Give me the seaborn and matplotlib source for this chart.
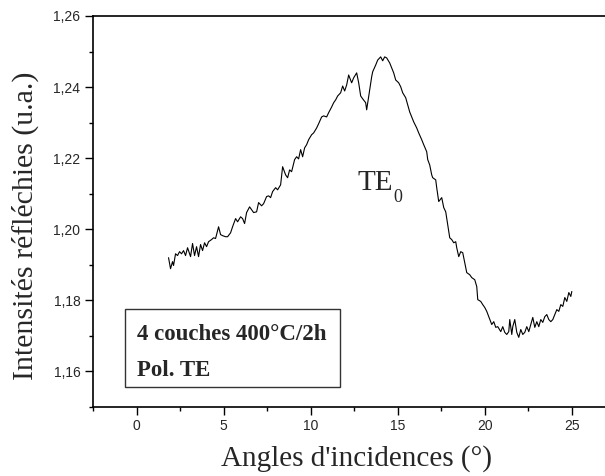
import numpy as np
import pandas as pd
import seaborn as sns
from matplotlib import pyplot as plt
from matplotlib.patches import Rectangle
from matplotlib.ticker import MultipleLocator

# Data
angle = [1.839, 1.954, 2.069, 2.126, 2.241, 2.356, 2.471, 2.586, 2.701, 2.816, 2.931, 3.103, 3.218, 3.333,
         3.448, 3.563, 3.678, 3.793, 3.908, 4.023, 4.138, 4.310, 4.425, 4.540, 4.713, 4.828, 4.943, 5.115,
         5.230, 5.402, 5.517, 5.690, 5.805, 5.977, 6.092, 6.207, 6.322, 6.494, 6.609, 6.724, 6.897, 7.011,
         7.184, 7.299, 7.471, 7.586, 7.701, 7.816, 7.989, 8.103, 8.276, 8.391, 8.563, 8.678, 8.793, 8.908,
         9.080, 9.195, 9.310, 9.425, 9.540, 9.655, 9.770, 9.885, 10.057, 10.172, 10.345, 10.460, 10.632,
         10.747, 10.920, 11.034, 11.207, 11.322, 11.437, 11.552, 11.724, 11.839, 11.954, 12.069, 12.184,
         12.356, 12.471, 12.644, 12.759, 12.874, 12.989, 13.161, 13.218, 13.506, 13.563, 13.736, 13.851,
         14.023, 14.138, 14.253, 14.368, 14.540, 14.655, 14.770, 14.885, 15.057, 15.172, 15.287, 15.460,
         15.575, 15.690, 15.805, 15.920, 16.092, 16.207, 16.379, 16.494, 16.667, 16.724, 16.839, 16.954,
         17.011, 17.184, 17.241, 17.356, 17.529, 17.644, 17.759, 17.874, 17.989, 18.103, 18.218, 18.333,
         18.391, 18.506, 18.621, 18.736, 18.851, 18.966, 19.138, 19.253, 19.425, 19.540, 19.598, 19.770,
         19.885, 20.000, 20.115, 20.230, 20.402, 20.517, 20.632, 20.747, 20.920, 21.034, 21.149, 21.264,
         21.379, 21.437, 21.552, 21.609, 21.724, 21.839, 21.954, 22.069, 22.184, 22.299, 22.414, 22.529,
         22.644, 22.759, 22.874, 22.989, 23.103, 23.218, 23.333, 23.448, 23.563, 23.678, 23.793, 23.908,
         24.023, 24.138, 24.253, 24.368, 24.483, 24.598, 24.713, 24.828, 24.943, 25.000]
intensity = [1.1920, 1.1889, 1.1909, 1.1898, 1.1931, 1.1926, 1.1937, 1.1931, 1.1940, 1.1926, 1.1948, 1.1923,
             1.1960, 1.1926, 1.1951, 1.1923, 1.1957, 1.1940, 1.1962, 1.1951, 1.1965, 1.1971, 1.1976, 1.1974,
             1.2007, 1.1985, 1.1982, 1.1979, 1.1979, 1.1990, 1.2007, 1.2030, 1.2021, 1.2035, 1.2030, 1.2016,
             1.2047, 1.2063, 1.2055, 1.2047, 1.2049, 1.2075, 1.2066, 1.2072, 1.2092, 1.2094, 1.2089, 1.2106,
             1.2117, 1.2111, 1.2125, 1.2176, 1.2153, 1.2145, 1.2167, 1.2162, 1.2196, 1.2204, 1.2198, 1.2224,
             1.2204, 1.2229, 1.2238, 1.2252, 1.2266, 1.2271, 1.2285, 1.2297, 1.2316, 1.2319, 1.2316, 1.2328,
             1.2344, 1.2356, 1.2364, 1.2375, 1.2384, 1.2403, 1.2389, 1.2406, 1.2434, 1.2412, 1.2426, 1.2440,
             1.2412, 1.2375, 1.2367, 1.2356, 1.2336, 1.2429, 1.2443, 1.2462, 1.2476, 1.2485, 1.2474, 1.2485,
             1.2482, 1.2468, 1.2454, 1.2440, 1.2420, 1.2412, 1.2401, 1.2384, 1.2370, 1.2350, 1.2330, 1.2316,
             1.2302, 1.2285, 1.2271, 1.2252, 1.2238, 1.2218, 1.2196, 1.2181, 1.2153, 1.2145, 1.2139, 1.2117,
             1.2078, 1.2089, 1.2061, 1.2049, 1.2013, 1.1976, 1.1971, 1.1962, 1.1965, 1.1948, 1.1923, 1.1937,
             1.1934, 1.1906, 1.1878, 1.1872, 1.1864, 1.1858, 1.1839, 1.1802, 1.1797, 1.1788, 1.1780, 1.1769,
             1.1754, 1.1732, 1.1740, 1.1724, 1.1726, 1.1712, 1.1726, 1.1710, 1.1704, 1.1712, 1.1746, 1.1704,
             1.1726, 1.1746, 1.1710, 1.1696, 1.1718, 1.1704, 1.1710, 1.1726, 1.1712, 1.1732, 1.1752, 1.1724,
             1.1740, 1.1726, 1.1746, 1.1738, 1.1754, 1.1760, 1.1746, 1.1740, 1.1746, 1.1760, 1.1774, 1.1769,
             1.1788, 1.1783, 1.1808, 1.1797, 1.1822, 1.1811, 1.1825]

xticks = [0, 5, 10, 15, 20, 25]
yticks = [1.16, 1.18, 1.20, 1.22, 1.24, 1.26]
ytick_labels = ["1,16", "1,18", "1,20", "1,22", "1,24", "1,26"]

df = pd.DataFrame({"angle": angle, "intensity": intensity})

sns.set_style("ticks")
plt.rcParams["font.family"] = ["Liberation Sans", "DejaVu Sans"]

fig = plt.figure(figsize=(6.05, 4.76), dpi=100)
ax = fig.add_axes([0.1537, 0.145, 0.849, 0.8214])

sns.lineplot(data=df, x="angle", y="intensity", ax=ax, color="black", linewidth=0.8, sort=False)

ax.set_xlim(-2.5, 27)
ax.set_ylim(1.15, 1.26)
ax.set_xticks(xticks)
ax.set_yticks(yticks)
ax.set_yticklabels(ytick_labels)
ax.xaxis.set_minor_locator(MultipleLocator(2.5))
ax.yaxis.set_minor_locator(MultipleLocator(0.01))
ax.tick_params(which="major", direction="out", length=5.5, width=1, labelsize=10, color="black")
ax.tick_params(which="minor", direction="out", length=3, width=1, color="black")

for side in ["left", "bottom", "top"]:
    ax.spines[side].set_color("black")
    ax.spines[side].set_linewidth(1.2)
ax.spines["right"].set_visible(False)

ax.set_xlabel("Angles d'incidences (°)", family="Liberation Serif", fontsize=21)
ax.set_ylabel("Intensités réfléchies (u.a.)", family="Liberation Serif", fontsize=21.5)
ax.xaxis.set_label_coords(0.5127, -0.098)
ax.yaxis.set_label_coords(-0.105, 0.463)

# annotation box
ax.add_patch(Rectangle((0.0624, 0.0512), 0.419, 0.1995, transform=ax.transAxes,
                       fill=False, edgecolor="#333333", linewidth=1))
ax.text(0.0858, 0.186, "4 couches 400°C/2h", transform=ax.transAxes, family="Liberation Serif",
        fontweight="bold", fontsize=16.5, va="center")
ax.text(0.0858, 0.093, "Pol. TE", transform=ax.transAxes, family="Liberation Serif",
        fontweight="bold", fontsize=16.5, va="center")

# mode label with lowered subscript
ax.text(12.7, 1.2111, "TE", family="Liberation Serif", fontsize=21, va="baseline")
ax.annotate("0", xy=(12.7, 1.2111), xytext=(25.8, -8.5), textcoords="offset points",
            family="Liberation Serif", fontsize=13, va="baseline")

fig.savefig("out.png", dpi=100)
